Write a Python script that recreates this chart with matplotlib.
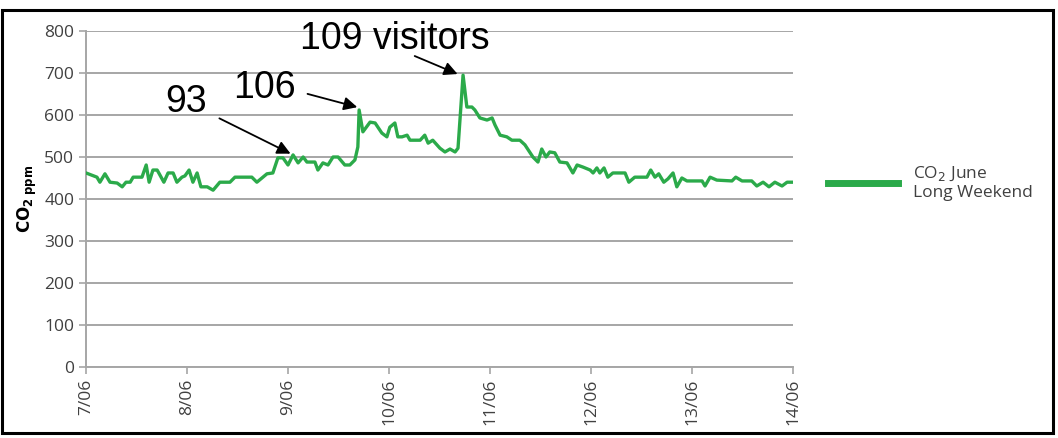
import matplotlib
matplotlib.use("Agg")
from matplotlib import pyplot as plt
from matplotlib.patches import Rectangle

# hours since 7/06 00:00 and CO2 readings (ppm)
hours = [0, 2.6, 3.3, 4.5, 5.7, 7.4, 8.6, 9.5, 10.5, 11.2, 13.3, 14.3, 15.0, 15.9, 16.9,
         17.3, 18.5, 19.5, 20.7, 21.6, 22.8, 23.5, 24.5, 25.4, 26.4, 27.3, 28.8, 30.2,
         31.8, 34.2, 35.4, 39.4, 40.6, 43.0, 44.4, 45.6, 46.8, 48.0, 49.2, 50.4, 51.6,
         52.5, 54.4, 55.1, 56.3, 57.5, 58.7, 59.9, 61.5, 62.7, 63.9, 64.6, 64.9, 65.8,
         67.5, 68.7, 70.3, 71.5, 72.2, 73.4, 74.1, 75.1, 76.3, 77.0, 79.4, 80.5, 81.3,
         82.4, 84.1, 85.3, 86.5, 87.7, 88.4, 89.6, 90.5, 91.7, 92.4, 93.6, 95.3, 96.5,
         97.2, 98.4, 100.0, 101.2, 103.1, 104.3, 106.2, 107.4, 108.3, 109.3, 110.2,
         111.4, 112.6, 114.3, 115.7, 116.7, 118.1, 119.8, 120.5, 121.4, 122.1, 123.1,
         124.0, 125.2, 128.1, 129.0, 130.4, 133.3, 134.2, 135.2, 136.1, 137.3, 138.3,
         139.5, 140.4, 141.6, 142.8, 146.4, 147.1, 148.3, 149.9, 153.5, 154.4, 155.9,
         158.2, 159.4, 160.9, 162.3, 163.7, 165.4, 166.6, 167.7]
co2 = [462, 452, 440, 460, 440, 438, 429, 440, 440, 452, 452, 481, 440, 469, 469,
       462, 440, 462, 462, 440, 452, 455, 469, 440, 462, 429, 429, 421,
       440, 440, 452, 452, 440, 460, 462, 498, 498, 481, 505, 486, 500,
       488, 488, 469, 486, 481, 500, 500, 481, 481, 493, 524, 612, 560,
       583, 581, 557, 548, 571, 581, 548, 548, 552, 540, 540, 552, 533,
       540, 521, 512, 519, 512, 521, 695, 619, 619, 612, 593, 588, 593,
       576, 552, 548, 540, 540, 529, 500, 488, 519, 500, 512,
       510, 488, 486, 462, 481, 476, 469, 462, 474, 462, 474,
       452, 462, 462, 440, 452, 452, 469, 452, 460, 440, 448,
       462, 429, 450, 443, 443, 431, 452, 445, 443, 452, 443,
       443, 431, 440, 429, 440, 431, 440, 440]

day_ticks = [0, 24, 48, 72, 96, 120, 144, 168]
day_labels = ["7/06", "8/06", "9/06", "10/06", "11/06", "12/06", "13/06", "14/06"]

# annotations: label, label position, arrow start, arrow tip
notes = [("93", (23.8, 630), (31.1, 595), (49.2, 505)),
         ("106", (42.5, 665), (52.0, 652), (65.1, 617)),
         ("109 visitors", (73.4, 782), (77.5, 743), (88.9, 695))]

green = "#2BAA4A"
grid_col = "#A6A6A6"
txt_col = "#404040"

plt.rcParams["font.family"] = ["Open Sans", "DejaVu Sans"]

fig = plt.figure(figsize=(10.58, 4.38), dpi=100)
ax = fig.add_axes([0.0813, 0.1621, 0.6682, 0.7671])

ax.plot(hours, co2, color=green, lw=2.4, label="CO$_2$ June\nLong Weekend", zorder=3)

ax.set_xlim(0, 168)
ax.set_ylim(0, 800)
ax.set_yticks(range(0, 801, 100))
ax.set_xticks(day_ticks)
ax.set_xticklabels(day_labels, rotation=90)
ax.grid(axis="y", color=grid_col, lw=1.4)
ax.set_axisbelow(True)
for s in ["top", "right"]:
    ax.spines[s].set_visible(False)
for s in ["left", "bottom"]:
    ax.spines[s].set_color(grid_col)
    ax.spines[s].set_linewidth(1.4)
ax.tick_params(colors=grid_col, length=5, width=1.2, labelcolor=txt_col, labelsize=12.5)

ax.set_ylabel(r"$\mathbf{CO_{2\ ppm}}$", fontsize=12, color="black", labelpad=4)

for label, tpos, start, tip in notes:
    ax.text(tpos[0], tpos[1], label, fontsize=27, ha="center", va="center",
            family="Liberation Sans", clip_on=False)
    ax.annotate("", xy=tip, xytext=start,
                arrowprops=dict(arrowstyle="-|>", color="black", lw=1.3, mutation_scale=20),
                annotation_clip=False)

leg = ax.legend(loc="center left", bbox_to_anchor=(0.768, 0.582), bbox_transform=fig.transFigure,
                frameon=False, handlelength=4.0, handletextpad=0.9, fontsize=12.5)
leg.get_lines()[0].set_linewidth(5)
for t in leg.get_texts():
    t.set_color(txt_col)

fig.patches.append(Rectangle((2 / 1058, 0.0114), 1051 / 1058, 423 / 438, transform=fig.transFigure,
                             fill=False, edgecolor="black", lw=2.2))

fig.savefig("out.png", dpi=100)
